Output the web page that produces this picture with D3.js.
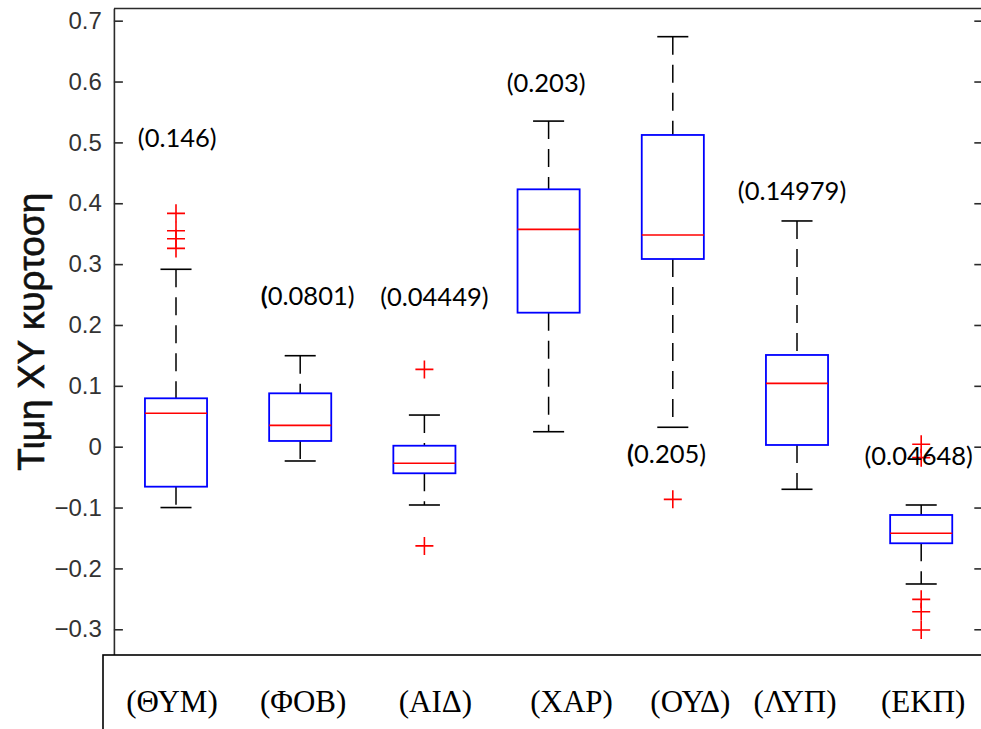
<!DOCTYPE html>
<html>
<head>
<meta charset="utf-8">
<script src="https://cdn.jsdelivr.net/npm/d3@7"></script>
<style>
  html, body { margin: 0; padding: 0; background: #fff; }
  svg { display: block; }
</style>
</head>
<body>
<svg id="chart" width="981" height="729"></svg>
<script>
// Box statistics per emotion category (XY kurtosis)
const categories   = ['(ΘΥΜ)', '(ΦΟΒ)', '(ΑΙΔ)', '(ΧΑΡ)', '(ΟΥΔ)', '(ΛΥΠ)', '(ΕΚΠ)'];
const lowerWhisker = [-0.100, -0.0235, -0.0958, 0.0246, 0.0319, -0.070, -0.2256];
const q1           = [-0.0657, 0.0094, -0.0437, 0.2202, 0.3084, 0.0028, -0.1587];
const medians      = [0.0549, 0.0351, -0.0273, 0.357, 0.3479, 0.1041, -0.1423];
const q3           = [0.0795, 0.0877, 0.0016, 0.4229, 0.5122, 0.1507, -0.1122];
const upperWhisker = [0.2915, 0.1495, 0.052, 0.535, 0.6737, 0.3709, -0.0958];
const outliers     = [
  [0.3834, 0.3548, 0.3416, 0.3258],
  [],
  [0.127, -0.163],
  [],
  [-0.0865],
  [],
  [0.004, -0.018, -0.2508, -0.2712, -0.3012]
];
const noteLabels   = ['(0.146)', '(0.0801)', '(0.04449)', '(0.203)', '(0.205)', '(0.14979)', '(0.04648)'];
const yTickValues  = [-0.3, -0.2, -0.1, 0, 0.1, 0.2, 0.3, 0.4, 0.5, 0.6, 0.7];
const yTitle       = 'Τιμη ΧΥ κυρτοση';

// Layout
const svg = d3.select('#chart');
const x = d3.scaleLinear().domain([0.5, 7.5]).range([113.9, 983.3]);
const y = d3.scaleLinear().domain([-0.35, 0.72]).range([659.7, 8.5]);
const boxHalf = 0.25, capHalf = 0.125;
// annotation anchors: [x offset in category units, baseline value]
const noteAnchor = [[0.01, 0.493], [0.06, 0.233], [0.08, 0.231], [-0.02, 0.583],
                    [-0.05, -0.027], [-0.04, 0.405], [-0.02, -0.030]];
const boldParen = [false, true, false, false, true, false, false];
// category label centre shifts (px) inside the bottom table
const catShift = [-4, 3, 11, 23, 17.5, -2, 2];

const axisColor = '#2b2b2b';

// Left axis with inward ticks
const gLeft = svg.append('g').attr('transform', `translate(${x(0.5)},0)`)
  .call(d3.axisLeft(y).tickValues(yTickValues)
    .tickFormat(d => d === 0 ? '0' : d3.format('.1f')(d))
    .tickSizeInner(-9).tickSizeOuter(0).tickPadding(12));
gLeft.select('.domain').attr('stroke', axisColor).attr('stroke-width', 1.6);
gLeft.selectAll('.tick line').attr('stroke', axisColor).attr('stroke-width', 1.6);
gLeft.selectAll('.tick text')
  .attr('font-family', '"Liberation Sans", Arial, sans-serif')
  .attr('font-size', 24).attr('fill', '#333');

// Right axis (ticks only)
const gRight = svg.append('g').attr('transform', `translate(${x(7.5)},0)`)
  .call(d3.axisRight(y).tickValues(yTickValues).tickFormat('')
    .tickSizeInner(-9).tickSizeOuter(0));
gRight.select('.domain').attr('stroke', axisColor).attr('stroke-width', 1.6);
gRight.selectAll('.tick line').attr('stroke', axisColor).attr('stroke-width', 1.6);

// Top border
svg.append('line')
  .attr('x1', x(0.5)).attr('x2', x(7.5))
  .attr('y1', y(0.72)).attr('y2', y(0.72))
  .attr('stroke', axisColor).attr('stroke-width', 1.6);

// Boxes
const idx = d3.range(categories.length);
const g = svg.append('g');
const pos = i => i + 1;

// whiskers (dashed), drawn from the higher end downwards
g.selectAll('line.wu').data(idx).join('line').attr('class', 'wu')
  .attr('x1', i => x(pos(i))).attr('x2', i => x(pos(i)))
  .attr('y1', i => y(upperWhisker[i])).attr('y2', i => y(q3[i]))
  .attr('stroke', '#000').attr('stroke-width', 1.5).attr('stroke-dasharray', '18,10');
g.selectAll('line.wl').data(idx).join('line').attr('class', 'wl')
  .attr('x1', i => x(pos(i))).attr('x2', i => x(pos(i)))
  .attr('y1', i => y(q1[i])).attr('y2', i => y(lowerWhisker[i]))
  .attr('stroke', '#000').attr('stroke-width', 1.5).attr('stroke-dasharray', '18,10');

// whisker caps
g.selectAll('line.cu').data(idx).join('line').attr('class', 'cu')
  .attr('x1', i => x(pos(i) - capHalf)).attr('x2', i => x(pos(i) + capHalf))
  .attr('y1', i => y(upperWhisker[i])).attr('y2', i => y(upperWhisker[i]))
  .attr('stroke', '#000').attr('stroke-width', 1.6);
g.selectAll('line.cl').data(idx).join('line').attr('class', 'cl')
  .attr('x1', i => x(pos(i) - capHalf)).attr('x2', i => x(pos(i) + capHalf))
  .attr('y1', i => y(lowerWhisker[i])).attr('y2', i => y(lowerWhisker[i]))
  .attr('stroke', '#000').attr('stroke-width', 1.6);

// interquartile boxes
g.selectAll('rect.box').data(idx).join('rect').attr('class', 'box')
  .attr('x', i => x(pos(i) - boxHalf))
  .attr('width', i => x(pos(i) + boxHalf) - x(pos(i) - boxHalf))
  .attr('y', i => y(q3[i]))
  .attr('height', i => y(q1[i]) - y(q3[i]))
  .attr('fill', 'none').attr('stroke', '#0000ff').attr('stroke-width', 1.8);

// medians
g.selectAll('line.med').data(idx).join('line').attr('class', 'med')
  .attr('x1', i => x(pos(i) - boxHalf)).attr('x2', i => x(pos(i) + boxHalf))
  .attr('y1', i => y(medians[i])).attr('y2', i => y(medians[i]))
  .attr('stroke', '#ff0000').attr('stroke-width', 1.6);

// outliers as '+' markers
const outPts = idx.flatMap(i => outliers[i].map(v => ({ i, v })));
const mk = 9;
g.selectAll('path.out').data(outPts).join('path').attr('class', 'out')
  .attr('d', d => {
    const cx = x(pos(d.i)), cy = y(d.v);
    return `M${cx - mk},${cy}H${cx + mk}M${cx},${cy - mk}V${cy + mk}`;
  })
  .attr('stroke', '#ff0000').attr('stroke-width', 1.6).attr('fill', 'none');

// value annotations
const notes = svg.append('g')
  .attr('font-family', 'Lato, "Open Sans", sans-serif')
  .attr('font-size', 25.5).attr('fill', '#000');
idx.forEach(i => {
  const t = notes.append('text')
    .attr('x', x(pos(i) + noteAnchor[i][0]))
    .attr('y', y(noteAnchor[i][1]))
    .attr('text-anchor', 'middle');
  const s = noteLabels[i];
  if (boldParen[i]) {
    t.append('tspan').attr('font-weight', 'bold').text(s[0]);
    t.append('tspan').text(s.slice(1));
  } else {
    t.text(s);
  }
});

// y-axis title
svg.append('text')
  .attr('transform', `translate(44,${(y(0.72) + 655) / 2}) rotate(-90)`)
  .attr('text-anchor', 'middle')
  .attr('font-family', '"Liberation Sans", Arial, sans-serif')
  .attr('font-size', 37).attr('fill', '#111')
  .attr('stroke', '#111').attr('stroke-width', 0.6)
  .text(yTitle);

// category table beneath the plot
svg.append('rect')
  .attr('x', 103).attr('y', 655).attr('width', 900).attr('height', 100)
  .attr('fill', '#fff').attr('stroke', '#000').attr('stroke-width', 1.6);
svg.append('g')
  .attr('font-family', '"Liberation Serif", "Times New Roman", serif')
  .attr('font-size', 31).attr('fill', '#000')
  .selectAll('text').data(idx).join('text')
  .attr('x', i => x(pos(i)) + catShift[i])
  .attr('y', 712)
  .attr('text-anchor', 'middle')
  .text(i => categories[i]);
</script>
</body>
</html>
